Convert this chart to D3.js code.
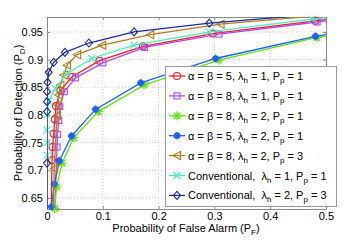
<!DOCTYPE html>
<html>
<head>
<meta charset="utf-8">
<script src="https://cdn.jsdelivr.net/npm/d3@7"></script>
<style>
  body { margin: 0; background: #fff; }
  svg { font-family: "Liberation Sans", Arial, sans-serif; }
</style>
</head>
<body>
<svg id="chart" width="360" height="240"></svg>
<script>
// data (Pf, Pd pairs per curve)
const pfA5L1 = [0.007, 0.009, 0.010, 0.012, 0.014, 0.016, 0.024, 0.045, 0.094, 0.172, 0.297, 0.481, 0.56];
const pdA5L1 = [0.600, 0.718, 0.742, 0.766, 0.792, 0.816, 0.844, 0.869, 0.898, 0.924, 0.947, 0.970, 0.980];
const pfA8L1 = [0.013, 0.018, 0.019, 0.021, 0.023, 0.031, 0.051, 0.100, 0.175, 0.308, 0.484, 0.56];
const pdA8L1 = [0.600, 0.742, 0.765, 0.790, 0.815, 0.842, 0.867, 0.894, 0.922, 0.946, 0.968, 0.978];
const pfA8L2 = [0.014, 0.017, 0.027, 0.048, 0.092, 0.174, 0.308, 0.484, 0.56];
const pdA8L2 = [0.631, 0.670, 0.713, 0.759, 0.806, 0.854, 0.899, 0.940, 0.952];
const pfA5L2 = [0.008, 0.013, 0.022, 0.044, 0.087, 0.168, 0.302, 0.481, 0.56];
const pdA5L2 = [0.634, 0.675, 0.717, 0.762, 0.810, 0.858, 0.902, 0.942, 0.955];
const pfA8L2P3 = [0.011, 0.013, 0.018, 0.020, 0.021, 0.024, 0.030, 0.036, 0.054, 0.099, 0.185, 0.311, 0.55];
const pdA8L2P3 = [0.600, 0.703, 0.799, 0.818, 0.836, 0.854, 0.872, 0.890, 0.909, 0.926, 0.945, 0.964, 0.985];
const pfConvL1 = [0, 0, 0, 0, 0, 0.003, 0.015, 0.035, 0.080, 0.156, 0.291, 0.475, 0.55];
const pdConvL1 = [0.600, 0.727, 0.750, 0.773, 0.800, 0.825, 0.848, 0.874, 0.902, 0.926, 0.950, 0.973, 0.980];
const pfConvL2 = [0, 0, 0, 0, 0, 0.001, 0.003, 0.012, 0.032, 0.075, 0.156, 0.291, 0.52];
const pdConvL2 = [0.600, 0.713, 0.806, 0.824, 0.842, 0.859, 0.877, 0.895, 0.913, 0.930, 0.950, 0.966, 0.985];

const xTicks = [0, 0.1, 0.2, 0.3, 0.4, 0.5];
const yTicks = [0.65, 0.7, 0.75, 0.8, 0.85, 0.9, 0.95];

const NB = '\u00a0';
// legend labels: text before lambda, lambda value, Pp value
const seriesInfo = [
  { pf: pfA5L1, pd: pdA5L1, color: '#ff1a1a', marker: 'circle', head: 'α = β = 5, ', lam: '1', pp: '1' },
  { pf: pfA8L1, pd: pdA8L1, color: '#a64dff', marker: 'square', head: 'α = β = 8, ', lam: '1', pp: '1' },
  { pf: pfA8L2, pd: pdA8L2, color: '#5ee600', marker: 'star', head: 'α = β = 8, ', lam: '2', pp: '1' },
  { pf: pfA5L2, pd: pdA5L2, color: '#2060ff', marker: 'dot', head: 'α = β = 5, ', lam: '2', pp: '1' },
  { pf: pfA8L2P3, pd: pdA8L2P3, color: '#b07d1e', marker: 'triangle', head: 'α = β = 8, ', lam: '2', pp: '3' },
  { pf: pfConvL1, pd: pdConvL1, color: '#44f0c0', marker: 'x', head: 'Conventional,' + NB + NB, lam: '1', pp: '1' },
  { pf: pfConvL2, pd: pdConvL2, color: '#1c2c98', marker: 'diamond', head: 'Conventional,' + NB + NB, lam: '2', pp: '3' }
];

const svg = d3.select('#chart');
const plotLeft = 47, plotRight = 326, plotTop = 17, plotBottom = 209;

const x = d3.scaleLinear().domain([0, 0.5]).range([plotLeft, plotRight]);
const y = d3.scaleLinear().domain([0.63, 0.977]).range([plotBottom, plotTop]);

svg.append('defs').append('clipPath').attr('id', 'plotClip')
  .append('rect')
  .attr('x', plotLeft).attr('y', plotTop)
  .attr('width', plotRight - plotLeft).attr('height', plotBottom - plotTop);

// grid
xTicks.slice(1, -1).forEach(t => {
  svg.append('line')
    .attr('x1', x(t)).attr('x2', x(t))
    .attr('y1', plotTop).attr('y2', plotBottom)
    .attr('stroke', '#c8c8c8').attr('stroke-width', 0.8)
    .attr('stroke-dasharray', '1,2');
});
yTicks.forEach(t => {
  svg.append('line')
    .attr('x1', plotLeft).attr('x2', plotRight)
    .attr('y1', y(t)).attr('y2', y(t))
    .attr('stroke', '#c8c8c8').attr('stroke-width', 0.8)
    .attr('stroke-dasharray', '1,2');
});

// axes (ticks inward, box)
const xAxis = d3.axisBottom(x).tickValues(xTicks).tickSize(-3).tickPadding(3)
  .tickFormat(d => d === 0 ? '0' : d3.format('.1f')(d));
const yAxis = d3.axisLeft(y).tickValues(yTicks).tickSize(-3).tickPadding(4)
  .tickFormat(d => String(+d.toFixed(2)));

svg.append('g').attr('transform', `translate(0,${plotBottom})`).call(xAxis);
svg.append('g').attr('transform', `translate(${plotLeft},0)`).call(yAxis);
svg.append('g').attr('transform', `translate(0,${plotTop})`)
  .call(d3.axisTop(x).tickValues(xTicks).tickSize(-3).tickFormat(''));
svg.append('g').attr('transform', `translate(${plotRight},0)`)
  .call(d3.axisRight(y).tickValues(yTicks).tickSize(-3).tickFormat(''));

svg.selectAll('.domain').attr('stroke', '#8a8a8a');
svg.selectAll('.tick line').attr('stroke', '#8a8a8a');
svg.selectAll('.tick text').attr('font-size', 11).attr('fill', '#000')
  .attr('font-family', '"Liberation Sans", Arial, sans-serif');

// axis labels
const xl = svg.append('text')
  .attr('x', 186).attr('y', 232)
  .attr('text-anchor', 'middle').attr('font-size', 11);
xl.append('tspan').text('Probability of False Alarm (P');
xl.append('tspan').attr('font-size', 8).attr('dy', 3).text('F');
xl.append('tspan').attr('dy', -3).text(')');

const yl = svg.append('text')
  .attr('transform', `translate(22,${(plotTop + plotBottom) / 2}) rotate(-90)`)
  .attr('text-anchor', 'middle').attr('font-size', 11);
yl.append('tspan').text('Probability of Detection (P');
yl.append('tspan').attr('font-size', 8).attr('dy', 3).text('D');
yl.append('tspan').attr('dy', -3).text(')');

// marker drawing
function drawMarker(g, type, cx, cy, color) {
  const m = g.append('g').attr('transform', `translate(${cx},${cy})`)
    .attr('fill', 'none').attr('stroke', color).attr('stroke-width', 1.1);
  if (type === 'circle') {
    m.append('circle').attr('r', 3.5);
  } else if (type === 'square') {
    m.append('rect').attr('x', -3).attr('y', -3).attr('width', 6).attr('height', 6);
  } else if (type === 'diamond') {
    m.append('path').attr('d', 'M0,-4L3.5,0L0,4L-3.5,0Z');
  } else if (type === 'triangle') {
    m.append('path').attr('d', 'M-4,0L3.5,-4L3.5,4Z');
  } else if (type === 'x') {
    m.append('path').attr('d', 'M-3.5,-3.5L3.5,3.5M-3.5,3.5L3.5,-3.5');
  } else if (type === 'star') {
    m.append('path').attr('stroke-width', 1.3)
      .attr('d', 'M0,-4.5L0,4.5M-4.5,0L4.5,0M-3.2,-3.2L3.2,3.2M-3.2,3.2L3.2,-3.2');
  } else if (type === 'dot') {
    m.append('circle').attr('r', 2.8).attr('fill', color);
    m.append('path').attr('d', 'M0,-3.8L0,3.8M-3.8,0L3.8,0');
  }
}

const lineGen = d3.line().x(d => x(d[0])).y(d => y(d[1]));
const plot = svg.append('g');

seriesInfo.forEach(s => {
  const pts = s.pf.map((v, i) => [v, s.pd[i]]);
  plot.append('path')
    .attr('d', lineGen(pts))
    .attr('clip-path', 'url(#plotClip)')
    .attr('fill', 'none')
    .attr('stroke', s.color)
    .attr('stroke-width', 1.3);
  pts.filter(p => p[0] >= 0 && p[0] <= 0.5 && p[1] >= 0.63 && p[1] <= 0.977)
    .forEach(p => drawMarker(plot, s.marker, x(p[0]), y(p[1]), s.color));
});

// legend
const lg = svg.append('g');
lg.append('rect')
  .attr('x', 165.5).attr('y', 66.5).attr('width', 171).attr('height', 140)
  .attr('fill', '#fff').attr('stroke', '#9a9a9a').attr('stroke-width', 1);

seriesInfo.forEach((s, i) => {
  const ry = 76 + i * 19.9;
  lg.append('line')
    .attr('x1', 169).attr('x2', 185).attr('y1', ry).attr('y2', ry)
    .attr('stroke', s.color).attr('stroke-width', 1.3);
  drawMarker(lg, s.marker, 177, ry, s.color);
  const t = lg.append('text').attr('x', 188).attr('y', ry + 4).attr('font-size', 11);
  t.append('tspan').text(s.head + 'λ');
  t.append('tspan').attr('font-size', 8).attr('dy', 3).text('h');
  t.append('tspan').attr('dy', -3).text(' = ' + s.lam + ', P');
  t.append('tspan').attr('font-size', 8).attr('dy', 3).text('p');
  t.append('tspan').attr('dy', -3).text(' = ' + s.pp);
});
</script>
</body>
</html>
